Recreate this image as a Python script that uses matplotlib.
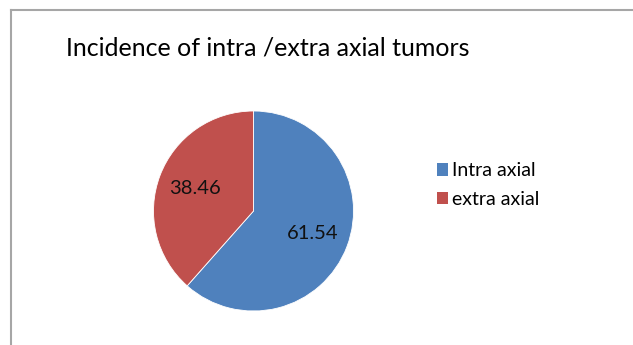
import matplotlib
matplotlib.use("Agg")
import matplotlib.pyplot as plt
from matplotlib.lines import Line2D
from matplotlib.patches import Patch

categories = ["Intra axial", "extra axial"]
values = [61.54, 38.46]
colors = ["#4F81BD", "#C0504D"]
title = "Incidence of intra /extra axial tumors"

W, H = 633, 345
fig = plt.figure(figsize=(W / 100, H / 100), dpi=100)
fig.patch.set_facecolor("white")

# chart border (cropped at right and bottom)
fig.add_artist(Line2D([11 / W, 1.0], [1 - 10 / H, 1 - 10 / H], color="#A6A6A6", lw=1.5))
fig.add_artist(Line2D([11 / W, 11 / W], [0, 1 - 10 / H], color="#A6A6A6", lw=1.5))

cx, cy, r = 253.5, 211, 100
ax = fig.add_axes([(cx - r) / W, (H - cy - r) / H, 2 * r / W, 2 * r / H])
wedges, texts = ax.pie(values, colors=colors, startangle=90, counterclock=False,
                       labels=[f"{v:.2f}" for v in values], labeldistance=0.63,
                       wedgeprops=dict(linewidth=0.6, edgecolor="white"),
                       textprops=dict(fontsize=14.5, color="#111111", family="Lato"))
for t in texts:
    t.set_ha("center")
    t.set_va("center")
ax.set_xlim(-1, 1)
ax.set_ylim(-1, 1)
ax.set_aspect("equal")
ax.axis("off")

fig.text(268 / W, 1 - 48 / H, title, ha="center", va="center", fontsize=18, family="Lato")

handles = [Patch(facecolor=c, edgecolor="none") for c in colors]
fig.legend(handles, categories, loc="upper left", bbox_to_anchor=(419 / W, 1 - 145 / H),
           frameon=False, handlelength=0.6, handleheight=0.6,
           handletextpad=0.2, labelspacing=0.6, prop=dict(family="Lato", size=14))

fig.savefig("out.png", dpi=100)
